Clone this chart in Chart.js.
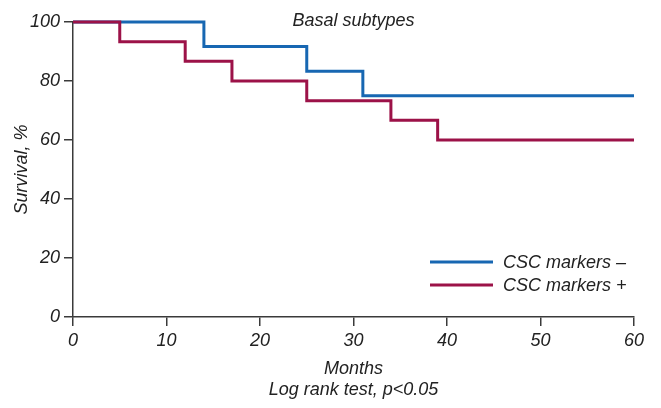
<!DOCTYPE html>
<html>
<head>
<meta charset="utf-8">
<script src="https://cdn.jsdelivr.net/npm/chart.js@4/dist/chart.umd.min.js"></script>
<style>
  html, body { margin: 0; padding: 0; background: #fff; }
  #wrap { width: 661px; height: 408px; }
</style>
</head>
<body>
<div id="wrap"><canvas id="km"></canvas></div>
<script>
// survival data (months, %)
const negMonths = [0, 14, 25, 31, 60];
const negSurvival = [100, 91.7, 83.3, 75, 75];
const posMonths = [0, 5, 12, 17, 25, 34, 39, 60];
const posSurvival = [100, 93.3, 86.7, 80, 73.3, 66.7, 60, 60];

const seriesLabels = ['CSC markers \u2013', 'CSC markers +'];
const chartTitle = 'Basal subtypes';
const xTitle = ['Months', 'Log rank test, p<0.05'];
const yTitle = 'Survival, %';

const BLUE = '#1767b2';
const RED = '#9c1248';
const AXIS = '#3a3a3a';
const FONT = { family: "'Liberation Sans', Arial, sans-serif", size: 18, style: 'italic' };

const toPoints = (xs, ys) => xs.map((x, i) => ({ x, y: ys[i] }));

// title + legend drawn inside the plot area
const overlay = {
  id: 'overlay',
  afterDraw(chart) {
    const { ctx, chartArea } = chart;
    ctx.save();
    ctx.font = `italic ${FONT.size}px ${FONT.family}`;
    ctx.fillStyle = '#222';
    ctx.textBaseline = 'middle';
    ctx.textAlign = 'center';
    ctx.fillText(chartTitle, (chartArea.left + chartArea.right) / 2, 21);

    ctx.textAlign = 'left';
    chart.data.datasets.forEach((ds, i) => {
      const y = 262 + i * 23;
      ctx.strokeStyle = ds.borderColor;
      ctx.lineWidth = 3;
      ctx.beginPath();
      ctx.moveTo(430, y);
      ctx.lineTo(493, y);
      ctx.stroke();
      ctx.fillText(ds.label, 503, y + 1);
    });
    ctx.restore();
  }
};

new Chart(document.getElementById('km'), {
  type: 'line',
  data: {
    datasets: [
      { label: seriesLabels[0], data: toPoints(negMonths, negSurvival), borderColor: BLUE, borderWidth: 3, stepped: 'before', pointRadius: 0, fill: false, clip: 6, order: 2 },
      { label: seriesLabels[1], data: toPoints(posMonths, posSurvival), borderColor: RED, borderWidth: 3, stepped: 'before', pointRadius: 0, fill: false, clip: 6, order: 1 }
    ]
  },
  options: {
    responsive: true,
    maintainAspectRatio: false,
    animation: false,
    layout: { padding: { top: 22, right: 27, left: 0, bottom: 0 } },
    plugins: { legend: { display: false }, tooltip: { enabled: false } },
    scales: {
      x: {
        type: 'linear', min: 0, max: 60,
        afterFit: (s) => { s.height = 91; },
        ticks: { stepSize: 10, color: '#222', font: FONT, padding: 4, maxRotation: 0 },
        grid: { drawOnChartArea: false, tickLength: 9, color: AXIS, lineWidth: 1.5 },
        border: { color: AXIS, width: 1.5 },
        title: { display: true, text: xTitle, color: '#222', font: FONT, padding: { top: 0, bottom: 7 } }
      },
      y: {
        min: 0, max: 100,
        afterFit: (s) => { s.width = 73; },
        ticks: { stepSize: 20, color: '#222', font: FONT, padding: 4 },
        grid: { drawOnChartArea: false, tickLength: 9, color: AXIS, lineWidth: 1.5 },
        border: { color: AXIS, width: 1.5 },
        title: { display: true, text: yTitle, color: '#222', font: FONT, padding: { top: 11, bottom: 0 } }
      }
    }
  },
  plugins: [overlay]
});
</script>
</body>
</html>
